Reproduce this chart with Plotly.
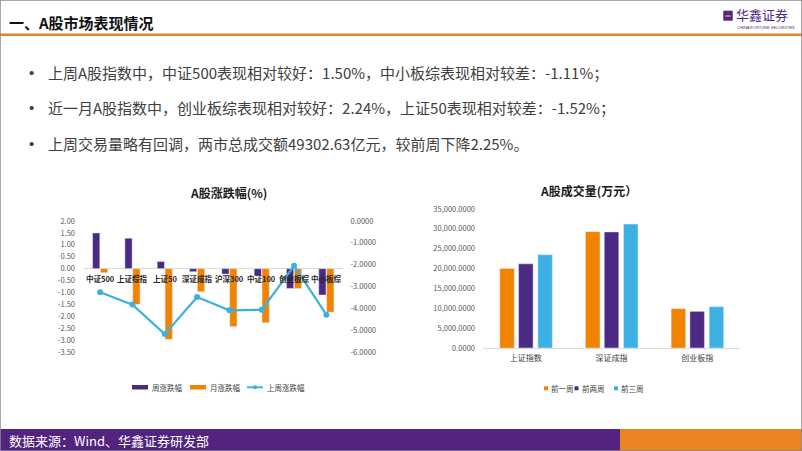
import plotly.graph_objects as go

W, H = 802, 451

# ---------------- data ----------------
idx_names = ["中证500", "上证综指", "上证50", "深证成指", "沪深300", "中证100", "创业板综", "中小板综"]
week_chg = [1.50, 1.28, 0.30, -0.13, -0.23, -0.30, -0.83, -1.11]
month_chg = [-0.17, -1.50, -2.97, -0.97, -2.43, -2.27, -0.83, -1.83]
last_week_chg = [-3.26, -3.83, -5.18, -3.48, -4.09, -4.07, -2.05, -4.29]

left_ticks = [2.0, 1.5, 1.0, 0.5, 0.0, -0.5, -1.0, -1.5, -2.0, -2.5, -3.0, -3.5]
right_ticks = [0, -1, -2, -3, -4, -5, -6]

vol_names = ["上证指数", "深证成指", "创业板指"]
vol_w1 = [20000, 29300, 9900]
vol_w2 = [21200, 29240, 9230]
vol_w3 = [23500, 31200, 10400]
vol_ticks = [0, 5000, 10000, 15000, 20000, 25000, 30000, 35000]

bullets = [
    "上周A股指数中，中证500表现相对较好：1.50%，中小板综表现相对较差：-1.11%；",
    "近一月A股指数中，创业板综表现相对较好：2.24%，上证50表现相对较差：-1.52%；",
    "上周交易量略有回调，两市总成交额49302.63亿元，较前周下降2.25%。",
]

# ---------------- style ----------------
PURPLE = "#4B2A84"
ORANGE = "#F08300"
BLUE = "#3DB0E3"
FOOT_PURPLE = "#52247F"
FOOT_ORANGE = "#EA8324"
FONT = "Noto Sans CJK SC"


def px(x):
    return x / W


def py(y):
    return 1 - y / H


fig = go.Figure()

# left chart
fig.add_trace(go.Bar(x=idx_names, y=week_chg, name="周涨跌幅", marker_color=PURPLE,
                     width=0.225, offset=-0.235, xaxis="x", yaxis="y", showlegend=False))
fig.add_trace(go.Bar(x=idx_names, y=month_chg, name="月涨跌幅", marker_color=ORANGE,
                     width=0.225, offset=0.01, xaxis="x", yaxis="y", showlegend=False))
fig.add_trace(go.Scatter(x=idx_names, y=last_week_chg, name="上周涨跌幅", mode="lines+markers",
                         line=dict(color=BLUE, width=2.2), marker=dict(size=6, color=BLUE),
                         xaxis="x", yaxis="y2", showlegend=False))

# right chart
for vals, nm, col, off in [(vol_w1, "前一周", ORANGE, -0.304),
                           (vol_w2, "前两周", PURPLE, -0.085),
                           (vol_w3, "前三周", BLUE, 0.14)]:
    fig.add_trace(go.Bar(x=vol_names, y=vals, name=nm, marker_color=col, width=0.17,
                         offset=off, xaxis="x2", yaxis="y3", showlegend=False))

tickfont = dict(family=FONT, size=7.5, color="#595959")

fig.update_layout(
    width=W, height=H, autosize=False,
    margin=dict(l=0, r=0, t=0, b=0, autoexpand=False),
    paper_bgcolor="white", plot_bgcolor="rgba(0,0,0,0)",
    font=dict(family=FONT),
    barmode="group",
    xaxis=dict(domain=[px(84), px(342.5)], anchor="y", type="category", range=[-0.5, 7.5],
               showticklabels=False, showgrid=False, showline=False, ticks=""),
    yaxis=dict(domain=[py(352), py(221)], range=[-3.5, 2.0], anchor="x",
               tickvals=left_ticks, ticktext=[f"{v:.2f}" for v in left_ticks],
               showgrid=False, zeroline=True, zerolinecolor="#d9d9d9", zerolinewidth=1,
               showline=False, ticks="", tickfont=tickfont, ticklabelstandoff=8),
    yaxis2=dict(overlaying="y", side="right", anchor="x", range=[-6, 0],
                tickvals=right_ticks, ticktext=[f"{v:.4f}" for v in right_ticks],
                showgrid=False, zeroline=False, showline=False, ticks="",
                tickfont=tickfont, ticklabelstandoff=7),
    xaxis2=dict(domain=[px(483), px(740)], anchor="y3", type="category", range=[-0.5, 2.5],
                showgrid=False, showline=True, linecolor="#d9d9d9", linewidth=1, ticks="",
                tickfont=dict(family=FONT, size=8, color="#404040"), ticklabelstandoff=2),
    yaxis3=dict(domain=[py(348), py(209)], range=[0, 35000], anchor="x2",
                tickvals=vol_ticks, ticktext=[f"{v:,.4f}" for v in vol_ticks],
                showgrid=False, zeroline=False, showline=False, ticks="",
                tickfont=tickfont, ticklabelstandoff=7),
)

ann = []


def note(x, y, text, font, xanchor="center"):
    ann.append(dict(x=px(x), y=py(y), xref="paper", yref="paper", text=text, showarrow=False,
                    xanchor=xanchor, yanchor="middle", font=font))


# category labels on the zero line of the left chart
for nm in idx_names:
    ann.append(dict(x=nm, y=0, xref="x", yref="y", text=nm, showarrow=False,
                    yanchor="top", yshift=-2,
                    font=dict(family=FONT, size=7.5, color="#262626", weight="bold")))

# chart titles
note(228, 192, "A股涨跌幅(%)", dict(family=FONT, size=12, color="#1a1a1a", weight="bold"))
note(588, 190, "A股成交量(万元）", dict(family=FONT, size=12, color="#1a1a1a", weight="bold"))

# header
note(7, 22, "一、A股市场表现情况", dict(family=FONT, size=15, color="#111111", weight="bold"), "left")
note(734, 15, "华鑫证券", dict(family=FONT, size=13, color="#4F2683"), "left")
note(735, 27.5, "CHINA FORTUNE SECURITIES",
     dict(family="Liberation Sans Narrow, Liberation Sans", size=4, color="#4F2683"), "left")

# bullets
for i, t in enumerate(bullets):
    yy = 72 + i * 35.5
    note(27, yy, "•", dict(family="Liberation Sans", size=15, color="#404040"), "left")
    note(46, yy, t, dict(family=FONT, size=15, color="#404040"), "left")

# footer text
note(7, 440, "数据来源：Wind、华鑫证券研发部", dict(family=FONT, size=13, color="white"), "left")

# legends (manual)
leg_font = dict(family=FONT, size=7.5, color="#404040")
shapes = []
left_leg = [("周涨跌幅", PURPLE, 132, "bar"), ("月涨跌幅", ORANGE, 190, "bar"), ("上周涨跌幅", BLUE, 247, "line")]
for nm, col, x0, kind in left_leg:
    if kind == "bar":
        shapes.append(dict(type="rect", xref="paper", yref="paper", x0=px(x0), x1=px(x0 + 16),
                           y0=py(389.5), y1=py(385), fillcolor=col, line=dict(width=0)))
    else:
        shapes.append(dict(type="line", xref="paper", yref="paper", x0=px(x0), x1=px(x0 + 16),
                           y0=py(387.3), y1=py(387.3), line=dict(color=col, width=2)))
        shapes.append(dict(type="circle", xref="paper", yref="paper", x0=px(x0 + 6), x1=px(x0 + 10),
                           y0=py(389.3), y1=py(385.3), fillcolor=col, line=dict(width=0)))
    note(x0 + 18, 387.5, nm, leg_font, "left")

right_leg = [("前一周", ORANGE, 544), ("前两周", PURPLE, 574.5), ("前三周", BLUE, 614)]
for nm, col, x0 in right_leg:
    shapes.append(dict(type="rect", xref="paper", yref="paper", x0=px(x0), x1=px(x0 + 4),
                       y0=py(390.3), y1=py(386.3), fillcolor=col, line=dict(width=0)))
    note(x0 + 5, 388.3, nm, leg_font, "left")

# header line, logo square, footer bands, frame
shapes.append(dict(type="line", xref="paper", yref="paper", x0=0, x1=1, y0=py(34.7), y1=py(34.7),
                   line=dict(color="#E8832A", width=2.5)))
shapes.append(dict(type="rect", xref="paper", yref="paper", x0=px(723.3), x1=px(732.7),
                   y0=py(20.7), y1=py(10.7), fillcolor="#4F2683", line=dict(width=0)))
shapes.append(dict(type="line", xref="paper", yref="paper", x0=px(725.5), x1=px(730.5),
                   y0=py(16), y1=py(16), line=dict(color="#F29A2E", width=1.5)))
shapes.append(dict(type="rect", xref="paper", yref="paper", x0=0, x1=px(620),
                   y0=0, y1=py(429), fillcolor=FOOT_PURPLE, line=dict(width=0)))
shapes.append(dict(type="rect", xref="paper", yref="paper", x0=px(620), x1=1,
                   y0=0, y1=py(429), fillcolor=FOOT_ORANGE, line=dict(width=0)))
shapes.append(dict(type="rect", xref="paper", yref="paper", x0=0, x1=1, y0=0, y1=1,
                   line=dict(color="#8c8c8c", width=1.5)))

fig.update_layout(annotations=ann, shapes=shapes)

fig.write_html("out.html")
